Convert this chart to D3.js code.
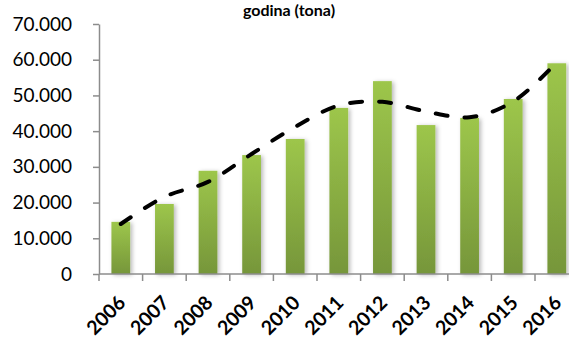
<!DOCTYPE html>
<html>
<head>
<meta charset="utf-8">
<script src="https://cdn.jsdelivr.net/npm/d3@7"></script>
<style>
  html, body { margin: 0; padding: 0; background: #fff; }
  svg { display: block; }
</style>
</head>
<body>
<svg id="chart" width="569" height="340"></svg>
<script>
// ---- data ----
const years = ["2006","2007","2008","2009","2010","2011","2012","2013","2014","2015","2016"];
const values = [14600, 19600, 28900, 33300, 37800, 46500, 54000, 41700, 43700, 49000, 59000];
const trendValues = [14000, 21600, 25800, 33600, 41200, 47200, 48200, 45500, 43900, 48300, 59300];
const yTicks = [0, 10000, 20000, 30000, 40000, 50000, 60000, 70000];
const titleText = "godina (tona)";

// ---- layout ----
const svg = d3.select("#chart");
const x0 = 99, step = 43.6, yBase = 274, yTop = 24;
const x = d3.scaleBand().domain(years).range([x0, x0 + step * years.length]).padding(0);
const y = d3.scaleLinear().domain([0, 70000]).range([yBase, yTop]);

const axisColor = "#8c8c8c";
const fontFam = "Lato, 'Open Sans', sans-serif";

const defs = svg.append("defs");
const grad = defs.append("linearGradient").attr("id", "barGrad")
  .attr("x1", 0).attr("y1", 0).attr("x2", 0).attr("y2", 1);
grad.append("stop").attr("offset", "0%").attr("stop-color", "#9dc64b");
grad.append("stop").attr("offset", "100%").attr("stop-color", "#76963a");
const filt = defs.append("filter").attr("id", "shadow")
  .attr("x", "-50%").attr("y", "-10%").attr("width", "200%").attr("height", "120%");
filt.append("feDropShadow").attr("dx", 2).attr("dy", 1).attr("stdDeviation", 2)
  .attr("flood-color", "#000").attr("flood-opacity", 0.28);

// title
svg.append("text")
  .attr("x", 289).attr("y", 16)
  .attr("text-anchor", "middle")
  .attr("font-family", fontFam).attr("font-weight", "bold").attr("font-size", 16)
  .text(titleText);

// bars
const bw = step * 0.43;
svg.append("g").selectAll("rect").data(years).join("rect")
  .attr("x", (d) => x(d) + x.bandwidth() / 2 - bw / 2)
  .attr("y", (d, i) => y(values[i]))
  .attr("width", bw)
  .attr("height", (d, i) => yBase - y(values[i]))
  .attr("fill", "url(#barGrad)")
  .attr("filter", "url(#shadow)");

// y axis
const locale = d3.formatLocale({ decimal: ",", thousands: ".", grouping: [3], currency: ["", ""] });
const fmt = locale.format(",d");
const yAxis = svg.append("g").attr("transform", `translate(${x0},0)`)
  .call(d3.axisLeft(y).tickValues(yTicks).tickFormat(fmt).tickSizeInner(6).tickSizeOuter(0).tickPadding(21));
yAxis.select(".domain").attr("stroke", axisColor).attr("stroke-width", 1.5);
yAxis.selectAll(".tick line").attr("stroke", axisColor).attr("stroke-width", 1.5);
yAxis.selectAll(".tick text")
  .attr("font-family", fontFam).attr("font-size", 19).attr("fill", "#000");

// x axis line and boundary ticks
const xg = svg.append("g");
xg.append("line")
  .attr("x1", x0).attr("x2", x.range()[1])
  .attr("y1", yBase).attr("y2", yBase)
  .attr("stroke", axisColor).attr("stroke-width", 1.5);
xg.selectAll("line.tk").data(years).join("line").attr("class", "tk")
  .attr("x1", (d) => x(d)).attr("x2", (d) => x(d))
  .attr("y1", yBase).attr("y2", yBase + 7)
  .attr("stroke", axisColor).attr("stroke-width", 1.5);
xg.selectAll("text").data(years).join("text")
  .attr("transform", (d) => `translate(${x(d) + x.bandwidth() / 2 + 6},${yBase + 30}) rotate(-45)`)
  .attr("text-anchor", "end")
  .attr("font-family", fontFam).attr("font-weight", "bold").attr("font-size", 19.5)
  .attr("fill", "#000")
  .text((d) => d);

// trend line
const line = d3.line()
  .x((d, i) => x(years[i]) + x.bandwidth() / 2)
  .y((d) => y(d))
  .curve(d3.curveCatmullRom.alpha(0.5));
svg.append("path").datum(trendValues)
  .attr("d", line)
  .attr("fill", "none")
  .attr("stroke", "#000")
  .attr("stroke-width", 4)
  .attr("stroke-linecap", "round")
  .attr("stroke-dasharray", "12,17");
</script>
</body>
</html>
